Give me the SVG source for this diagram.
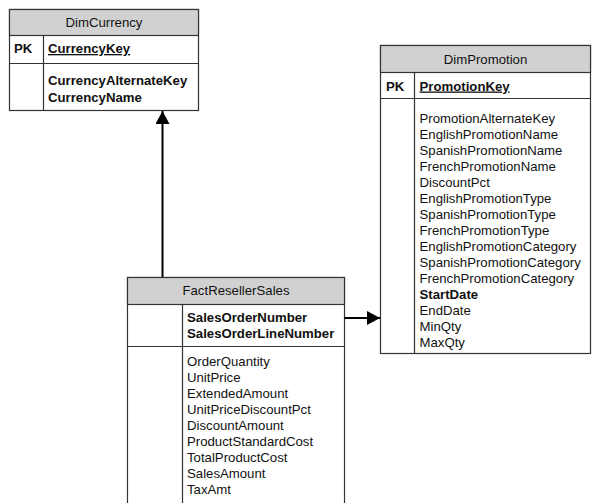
<svg xmlns="http://www.w3.org/2000/svg" width="603" height="503" viewBox="0 0 603 503">
<style>
.box{fill:#fff;stroke:#333;stroke-width:1.2}
.hdr{fill:#d1d1d1;stroke:#333;stroke-width:1.2}
.ln{stroke:#333;stroke-width:1.2;fill:none}
text{font-family:"Liberation Sans",Arial,sans-serif;font-size:13.2px;fill:#111}
.t{text-anchor:middle}
.b{font-weight:bold}
.u{text-decoration:underline}
.conn{stroke:#000;stroke-width:2;fill:none}
</style>
<defs>
<marker id="ah" markerWidth="14" markerHeight="14" refX="13" refY="7" orient="auto" markerUnits="userSpaceOnUse">
<path d="M0,0 L13,7 L0,14 Z" fill="#000"/>
</marker>
</defs>
<rect width="603" height="503" fill="#fff"/>
<g id="DimCurrency">
<rect class="box" x="9.5" y="9.5" width="189" height="101"/>
<rect class="hdr" x="9.5" y="9.5" width="189" height="26"/>
<line class="ln" x1="9.5" y1="63.5" x2="198.5" y2="63.5"/>
<line class="ln" x1="43.5" y1="35.5" x2="43.5" y2="110.5"/>
<text class="t" x="104" y="26.5">DimCurrency</text>
<text class="b" x="14" y="53">PK</text>
<text class="b u" x="48" y="53">CurrencyKey</text>
<text class="b" x="48" y="85">CurrencyAlternateKey</text>
<text class="b" x="48" y="101.5">CurrencyName</text>
</g>
<g id="DimPromotion">
<rect class="box" x="380.5" y="45.5" width="210" height="308"/>
<rect class="hdr" x="380.5" y="45.5" width="210" height="27"/>
<line class="ln" x1="380.5" y1="98.5" x2="590.5" y2="98.5"/>
<line class="ln" x1="414.5" y1="72.5" x2="414.5" y2="353.5"/>
<text class="t" x="485.5" y="63.5">DimPromotion</text>
<text class="b" x="386" y="90.5">PK</text>
<text class="b u" x="419.5" y="90.5">PromotionKey</text>
<text x="419.5" y="123.3">PromotionAlternateKey</text>
<text x="419.5" y="139.3">EnglishPromotionName</text>
<text x="419.5" y="155.3">SpanishPromotionName</text>
<text x="419.5" y="171.3">FrenchPromotionName</text>
<text x="419.5" y="187.3">DiscountPct</text>
<text x="419.5" y="203.3">EnglishPromotionType</text>
<text x="419.5" y="219.3">SpanishPromotionType</text>
<text x="419.5" y="235.3">FrenchPromotionType</text>
<text x="419.5" y="251.3">EnglishPromotionCategory</text>
<text x="419.5" y="267.3">SpanishPromotionCategory</text>
<text x="419.5" y="283.3">FrenchPromotionCategory</text>
<text class="b" x="419.5" y="299.3">StartDate</text>
<text x="419.5" y="315.3">EndDate</text>
<text x="419.5" y="331.3">MinQty</text>
<text x="419.5" y="347.3">MaxQty</text>
</g>
<g id="FactResellerSales">
<rect class="box" x="127.5" y="277.5" width="217" height="240"/>
<rect class="hdr" x="127.5" y="277.5" width="217" height="27"/>
<line class="ln" x1="127.5" y1="346.5" x2="344.5" y2="346.5"/>
<line class="ln" x1="182.5" y1="304.5" x2="182.5" y2="517"/>
<text class="t" x="236" y="294.5">FactResellerSales</text>
<text class="b" x="187" y="322.3">SalesOrderNumber</text>
<text class="b" x="187" y="338">SalesOrderLineNumber</text>
<text x="187" y="366.3">OrderQuantity</text>
<text x="187" y="382.3">UnitPrice</text>
<text x="187" y="398.3">ExtendedAmount</text>
<text x="187" y="414.3">UnitPriceDiscountPct</text>
<text x="187" y="430.3">DiscountAmount</text>
<text x="187" y="446.3">ProductStandardCost</text>
<text x="187" y="462.3">TotalProductCost</text>
<text x="187" y="478.3">SalesAmount</text>
<text x="187" y="494.3">TaxAmt</text>
</g>
<g id="connectors">
<line class="conn" x1="162.5" y1="277" x2="162.5" y2="111" marker-end="url(#ah)"/>
<line class="conn" x1="344.5" y1="318" x2="380" y2="318" marker-end="url(#ah)"/>
</g>
</svg>
